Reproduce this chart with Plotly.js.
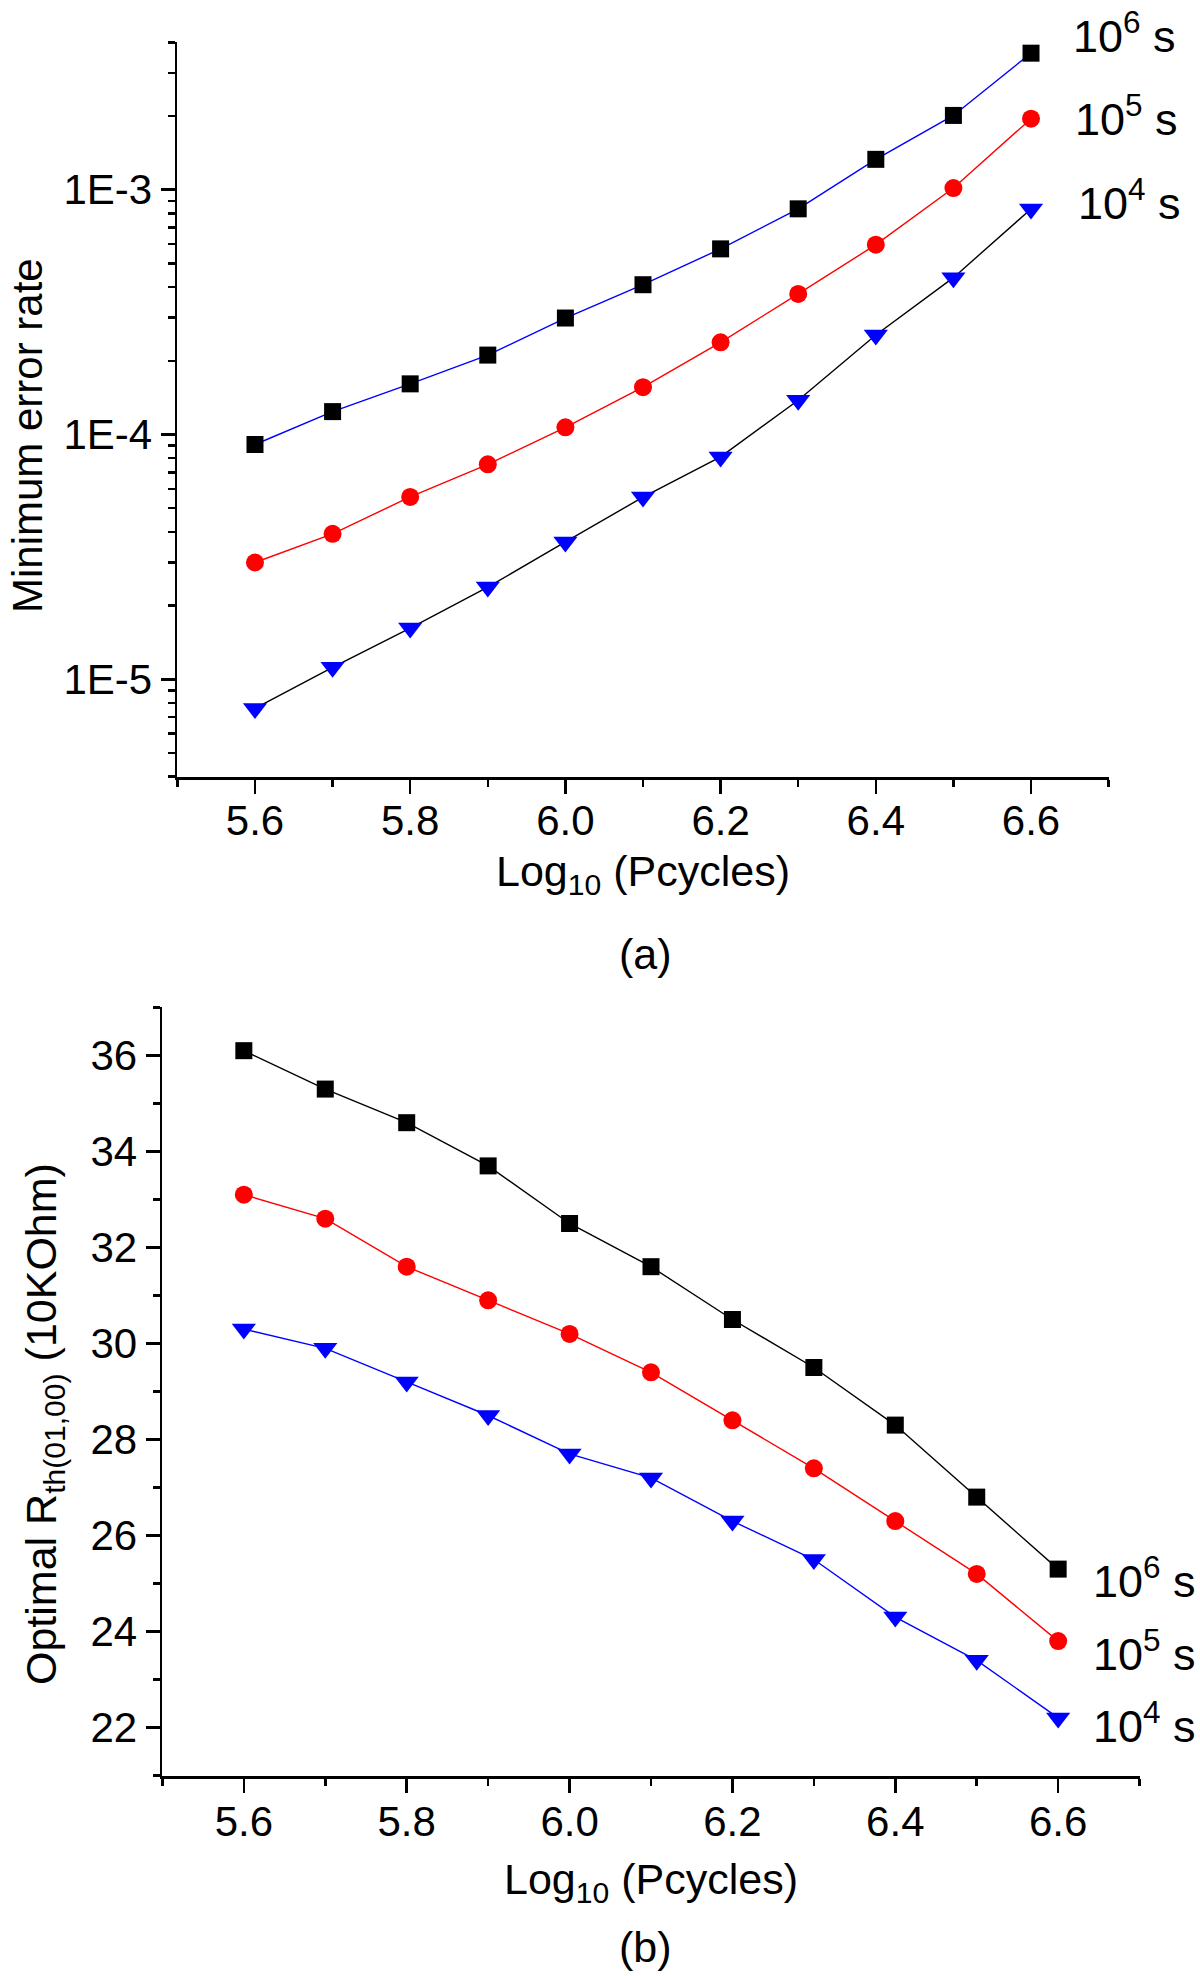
<!DOCTYPE html>
<html>
<head>
<meta charset="utf-8">
<script src="https://cdn.plot.ly/plotly-3.0.1.min.js"></script>
<style>html,body{margin:0;padding:0;background:#fff;}#chart{width:1200px;height:1976px;}</style>
</head>
<body>
<div id="chart"></div>
<script>
// ---- Data ----
const logPcycles = [5.6, 5.7, 5.8, 5.9, 6.0, 6.1, 6.2, 6.3, 6.4, 6.5, 6.6];
const seriesNames = ['10<sup>6</sup> s', '10<sup>5</sup> s', '10<sup>4</sup> s'];

// (a) Minimum error rate
const errRate_1e6 = [9.1e-5, 1.24e-4, 1.61e-4, 2.11e-4, 2.99e-4, 4.09e-4, 5.73e-4, 8.35e-4, 1.33e-3, 2.01e-3, 3.61e-3];
const errRate_1e5 = [3.0e-5, 3.93e-5, 5.56e-5, 7.55e-5, 1.07e-4, 1.56e-4, 2.38e-4, 3.75e-4, 5.96e-4, 1.015e-3, 1.95e-3];
const errRate_1e4 = [7.6e-6, 1.12e-5, 1.62e-5, 2.38e-5, 3.64e-5, 5.55e-5, 8.1e-5, 1.38e-4, 2.55e-4, 4.37e-4, 8.34e-4];

// (b) Optimal R_th(01,00) (10KOhm)
const rth_1e6 = [36.1, 35.3, 34.6, 33.7, 32.5, 31.6, 30.5, 29.5, 28.3, 26.8, 25.3];
const rth_1e5 = [33.1, 32.6, 31.6, 30.9, 30.2, 29.4, 28.4, 27.4, 26.3, 25.2, 23.8];
const rth_1e4 = [30.3, 29.9, 29.2, 28.5, 27.7, 27.2, 26.3, 25.5, 24.3, 23.4, 22.2];

const xTickVals = [5.6, 5.8, 6.0, 6.2, 6.4, 6.6];
const xTickText = ['5.6', '5.8', '6.0', '6.2', '6.4', '6.6'];
const yTickValsA = [1e-5, 1e-4, 1e-3];
const yTickTextA = ['1E-5', '1E-4', '1E-3'];
const yTickValsB = [22, 24, 26, 28, 30, 32, 34, 36];

// ---- Layout helpers ----
const W = 1200, H = 1976;
const px = x => x / W;
const py = y => 1 - y / H;
const FONT = 'Liberation Sans, Arial, Helvetica, sans-serif';

// minor ticks for log axis (2..9 per decade within range)
const minorLogA = [];
for (let e = -6; e <= -3; e++) {
  for (let m = 2; m <= 9; m++) {
    const v = m * Math.pow(10, e);
    if (v >= 3.99e-6 && v <= 4.01e-3) minorLogA.push(v);
  }
}

const axisCommon = {
  showline: true, linecolor: '#000', linewidth: 2.5,
  ticks: 'outside', ticklen: 14, tickwidth: 2.5, tickcolor: '#000',
  showgrid: false, zeroline: false,
  tickfont: {family: FONT, size: 42, color: '#000'},
  fixedrange: true
};

const lineW = 1.4;
const traces = [
  // (a)
  {x: logPcycles, y: errRate_1e6, xaxis: 'x', yaxis: 'y', mode: 'lines+markers', name: seriesNames[0],
   line: {color: '#0000FF', width: lineW}, marker: {symbol: 'square', size: 17, color: '#000'}},
  {x: logPcycles, y: errRate_1e5, xaxis: 'x', yaxis: 'y', mode: 'lines+markers', name: seriesNames[1],
   line: {color: '#FF0000', width: lineW}, marker: {symbol: 'circle', size: 18, color: '#FF0000'}},
  {x: logPcycles, y: errRate_1e4, xaxis: 'x', yaxis: 'y', mode: 'lines+markers', name: seriesNames[2],
   line: {color: '#000', width: lineW}, marker: {symbol: 'triangle-down', size: 21, color: '#0000FF'}},
  // (b)
  {x: logPcycles, y: rth_1e6, xaxis: 'x2', yaxis: 'y2', mode: 'lines+markers', name: seriesNames[0],
   line: {color: '#000', width: lineW}, marker: {symbol: 'square', size: 17, color: '#000'}},
  {x: logPcycles, y: rth_1e5, xaxis: 'x2', yaxis: 'y2', mode: 'lines+markers', name: seriesNames[1],
   line: {color: '#FF0000', width: lineW}, marker: {symbol: 'circle', size: 18, color: '#FF0000'}},
  {x: logPcycles, y: rth_1e4, xaxis: 'x2', yaxis: 'y2', mode: 'lines+markers', name: seriesNames[2],
   line: {color: '#0000FF', width: lineW}, marker: {symbol: 'triangle-down', size: 21, color: '#0000FF'}}
];

const ann = (text, x, y, opts) => Object.assign({
  text, x: px(x), y: py(y), xref: 'paper', yref: 'paper', showarrow: false,
  xanchor: 'center', yanchor: 'middle', font: {family: FONT, size: 43, color: '#000'}
}, opts || {});
const legFont = {family: FONT, size: 45, color: '#000'};

const layout = {
  width: W, height: H,
  margin: {l: 0, r: 0, t: 0, b: 0},
  paper_bgcolor: '#fff', plot_bgcolor: '#fff',
  showlegend: false,
  xaxis: Object.assign({}, axisCommon, {
    domain: [px(177), px(1109)], range: [5.4995, 6.7005], anchor: 'y',
    tickmode: 'array', tickvals: xTickVals, ticktext: xTickText, ticklabelstandoff: -9,
    minor: {ticks: 'outside', ticklen: 7, tickwidth: 2.5, tickcolor: '#000', dtick: 0.1, tick0: 5.5, showgrid: false}
  }),
  yaxis: Object.assign({}, axisCommon, {
    domain: [py(777), py(42)], type: 'log', range: [Math.log10(3.99e-6), Math.log10(4.01e-3)], anchor: 'x',
    tickmode: 'array', tickvals: yTickValsA, ticktext: yTickTextA,
    minor: {ticks: 'outside', ticklen: 7, tickwidth: 2.5, tickcolor: '#000', tickmode: 'array', tickvals: minorLogA, showgrid: false}
  }),
  xaxis2: Object.assign({}, axisCommon, {
    domain: [px(162), px(1140)], range: [5.4995, 6.7005], anchor: 'y2',
    tickmode: 'array', tickvals: xTickVals, ticktext: xTickText, ticklabelstandoff: -7,
    minor: {ticks: 'outside', ticklen: 7, tickwidth: 2.5, tickcolor: '#000', dtick: 0.1, tick0: 5.5, showgrid: false}
  }),
  yaxis2: Object.assign({}, axisCommon, {
    domain: [py(1776), py(1007)], range: [20.99, 37.01], anchor: 'x2',
    tickmode: 'array', tickvals: yTickValsB,
    minor: {ticks: 'outside', ticklen: 7, tickwidth: 2.5, tickcolor: '#000', dtick: 1, tick0: 21, showgrid: false}
  }),
  annotations: [
    ann('Minimum error rate', 27, 436, {textangle: -90, font: {family: FONT, size: 42, color: '#000'}}),
    ann('Log<sub>10</sub> (Pcycles)', 643, 874),
    ann('(a)', 645, 954),
    ann(seriesNames[0], 1071, 33, {xanchor: 'left', font: legFont}),
    ann(seriesNames[1], 1073, 116, {xanchor: 'left', font: legFont}),
    ann(seriesNames[2], 1076, 200, {xanchor: 'left', font: legFont}),

    ann('Optimal R<sub>th(01,00)</sub> (10KOhm)', 44, 1424, {textangle: -90}),
    ann('Log<sub>10</sub> (Pcycles)', 651, 1882),
    ann('(b)', 645, 1947),
    ann(seriesNames[0], 1091, 1578, {xanchor: 'left', font: legFont}),
    ann(seriesNames[1], 1091, 1651, {xanchor: 'left', font: legFont}),
    ann(seriesNames[2], 1091, 1723, {xanchor: 'left', font: legFont})
  ]
};

Plotly.newPlot('chart', traces, layout, {staticPlot: true, displayModeBar: false});
</script>
</body>
</html>
